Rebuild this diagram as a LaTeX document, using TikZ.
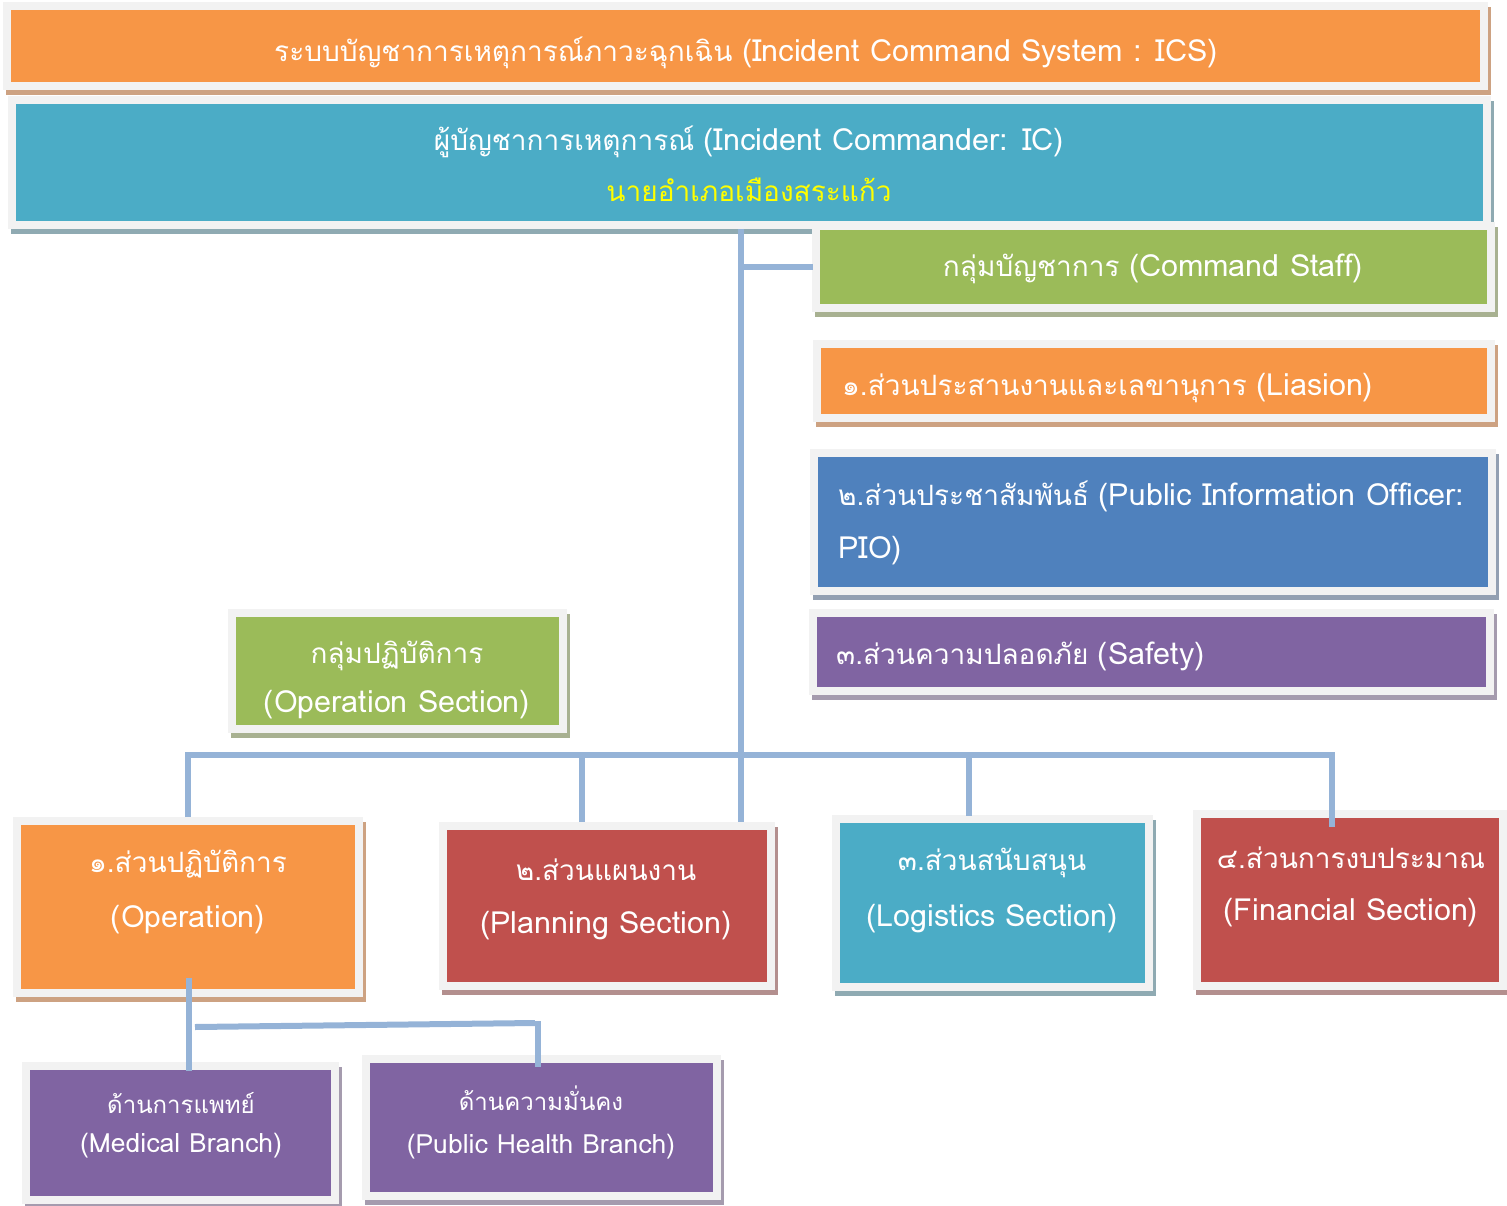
\documentclass[tikz,border=0pt]{standalone}
\usepackage{fontspec}
\newfontfamily\thaifont[Script=Thai]{Loma}
\usetikzlibrary{calc}
\definecolor{framegray}{HTML}{F2F2F2}
\definecolor{corange}{HTML}{F79646}
\definecolor{sorange}{HTML}{CDA282}
\definecolor{cteal}{HTML}{4BACC6}
\definecolor{steal}{HTML}{8FAAB2}
\definecolor{cgreen}{HTML}{9BBB59}
\definecolor{sgreen}{HTML}{A8B191}
\definecolor{cblue}{HTML}{4F81BD}
\definecolor{sblue}{HTML}{93A0B2}
\definecolor{cpurple}{HTML}{8064A2}
\definecolor{spurple}{HTML}{A59BAE}
\definecolor{cred}{HTML}{C0504D}
\definecolor{sred}{HTML}{B38F8E}
\definecolor{cline}{HTML}{95B3D7}
\definecolor{cyellow}{HTML}{FFFF00}
\newcommand\latb[1]{{\fontsize{30.5}{34}\selectfont #1}}
\newcommand\lats[1]{{\fontsize{26.5}{30}\selectfont #1}}
\newcommand\framedbox[7]{%
  \fill[#7] (#2-5,#3-3) rectangle (#4+11,#5+13);
  \fill[framegray] (#2-8,#3-8) rectangle (#4+8,#5+8);
  \node[boxstyle, fill=#6, minimum width={#4-#2}, minimum height={#5-#3}] (#1) at (#2,#3) {};
}
\tikzset{
  boxstyle/.style={inner sep=0pt, outer sep=0pt, anchor=north west, draw=none},
  txt/.style={font=\thaifont\fontsize{28}{32}\selectfont, text=white, inner sep=0pt, yshift=-2pt},
  smalltxt/.style={font=\thaifont\fontsize{24}{28}\selectfont, text=white, inner sep=0pt, yshift=-1pt},
  conn/.style={draw=cline, line width=6pt},
}
\begin{document}
\begin{tikzpicture}[x=1pt,y=-1pt]
\useasboundingbox (0,0) rectangle (1507,1206);
% boxes
\framedbox{title}{11}{10}{1480}{82}{corange}{sorange}
\framedbox{cmd}{16}{104}{1483}{221}{cteal}{steal}
\framedbox{staff}{820}{230}{1487}{304}{cgreen}{sgreen}
\framedbox{liaison}{821}{348}{1487}{414}{corange}{sorange}
\framedbox{pio}{818}{457}{1488}{587}{cblue}{sblue}
\framedbox{safety}{817}{617}{1486}{687}{cpurple}{spurple}
\framedbox{opgroup}{236}{617}{559}{725}{cgreen}{sgreen}
\framedbox{op}{21}{825}{355}{989}{corange}{sorange}
\framedbox{plan}{447}{830}{767}{982}{cred}{sred}
\framedbox{logi}{840}{823}{1145}{983}{cteal}{steal}
\framedbox{fin}{1201}{818}{1499}{982}{cred}{sred}
\framedbox{med}{30}{1070}{331}{1196}{cpurple}{spurple}
\framedbox{ph}{370}{1063}{713}{1192}{cpurple}{spurple}
% texts
\node[txt] (titletext) at (746,51) {ระบบบัญชาการเหตุการณ์ภาวะฉุกเฉิน \latb{(Incident Command System : ICS)}};
\node[txt] (cmdtext) at (749,140) {ผู้บัญชาการเหตุการณ์ \latb{(Incident Commander: IC)}};
\node[txt, text=cyellow] (cmdname) at (749,188) {นายอำเภอเมืองสระแก้ว};
\node[txt] (stafftext) at (1153,267) {กลุ่มบัญชาการ \latb{(Command Staff)}};
\node[txt, anchor=west] (liaisontext) at (842,386) {๑.ส่วนประสานงานและเลขานุการ \latb{(Liasion)}};
\node[txt, anchor=west] (piotext1) at (838,494) {๒.ส่วนประชาสัมพันธ์ \latb{(Public Information Officer:}};
\node[txt, anchor=west] (piotext2) at (838,549) {\latb{PIO)}};
\node[txt, anchor=west] (safetytext) at (836,654) {๓.ส่วนความปลอดภัย \latb{(Safety)}};
\node[txt] (opgtext1) at (397,654) {กลุ่มปฏิบัติการ};
\node[txt] (opgtext2) at (397,703) {\latb{(Operation Section)}};
\node[txt] (optext1) at (188,862) {๑.ส่วนปฏิบัติการ};
\node[txt] (optext2) at (188,918) {\latb{(Operation)}};
\node[txt] (plantext1) at (606,868) {๒.ส่วนแผนงาน};
\node[txt] (plantext2) at (606,924) {\latb{(Planning Section)}};
\node[txt] (logitext1) at (992,861) {๓.ส่วนสนับสนุน};
\node[txt] (logitext2) at (992,917) {\latb{(Logistics Section)}};
\node[txt] (fintext1) at (1351,856) {๔.ส่วนการงบประมาณ};
\node[txt] (fintext2) at (1351,911) {\latb{(Financial Section)}};
\node[smalltxt] (medtext1) at (181,1102) {ด้านการแพทย์};
\node[smalltxt] (medtext2) at (181,1145) {\lats{(Medical Branch)}};
\node[smalltxt] (phtext1) at (541,1097) {ด้านความมั่นคง};
\node[smalltxt] (phtext2) at (541,1146) {\lats{(Public Health Branch)}};
% connectors
\coordinate (trunk) at (741,229);
\coordinate (bus) at (741,755);
\coordinate (dOp) at (188,755);
\coordinate (dPlan) at (582,755);
\coordinate (dLogi) at (969,755);
\coordinate (dFin) at (1332,755);
\draw[conn] (trunk) -- ($(trunk |- plan.north)+(0,-8)$);
\draw[conn] ($(trunk |- staff.west)+(3,0)$) -- ($(staff.west)+(-7,0)$);
\draw[conn] ($(dOp |- op.north)+(0,-8)$) -- (dOp) -- (dFin) -- ($(dFin |- fin.north)+(0,9)$);
\draw[conn] (dPlan) -- ($(dPlan |- plan.north)+(0,-8)$);
\draw[conn] (dLogi) -- ($(dLogi |- logi.north)+(0,-7)$);
\coordinate (brA) at (189,978);
\coordinate (brB) at (538,1023);
\draw[conn] (brA) -- ($(brA |- med.north)+(0,1)$);
\draw[conn] ($(brA)+(6,49)$) -- ($(brB)+(-3,0)$);
\draw[conn] ($(brB)+(0,-2)$) -- ($(brB |- ph.north)+(0,4)$);
\end{tikzpicture}
\end{document}
